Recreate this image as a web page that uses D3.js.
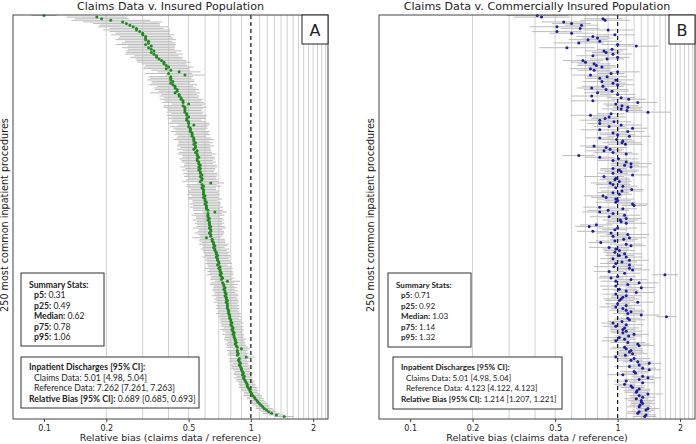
<!DOCTYPE html>
<html>
<head>
<meta charset="utf-8">
<script src="https://cdn.jsdelivr.net/npm/d3@7"></script>
<style>
  body { margin: 0; background: #fff; }
  svg { display: block; }
  .title, .axis-label, .tick text { font-family: "DejaVu Sans", sans-serif; fill: #222; }
  .box-text { font-family: Lato, "Open Sans", sans-serif; fill: #222; }
</style>
</head>
<body>
<div id="chart"></div>
<script>
// relative bias per procedure (point estimate), panel A: all insured
const biasA = [
  0.10, 0.18, 0.19, 0.21, 0.24, 0.25, 0.26, 0.27, 0.28, 0.28,
  0.29, 0.30, 0.30, 0.31, 0.31, 0.31, 0.32, 0.32, 0.31, 0.33,
  0.32, 0.33, 0.34, 0.33, 0.34, 0.35, 0.35, 0.36, 0.37, 0.38,
  0.38, 0.39, 0.40, 0.39, 0.41, 0.45, 0.40, 0.48, 0.41, 0.41,
  0.41, 0.42, 0.41, 0.42, 0.43, 0.43, 0.44, 0.44, 0.43, 0.45,
  0.45, 0.46, 0.46, 0.47, 0.47, 0.50, 0.47, 0.48, 0.48, 0.48,
  0.48, 0.49, 0.49, 0.50, 0.49, 0.49, 0.50, 0.50, 0.53, 0.50,
  0.51, 0.51, 0.51, 0.52, 0.52, 0.52, 0.53, 0.53, 0.53, 0.54,
  0.53, 0.54, 0.54, 0.53, 0.55, 0.54, 0.55, 0.55, 0.56, 0.55,
  0.55, 0.56, 0.56, 0.57, 0.56, 0.57, 0.56, 0.57, 0.57, 0.58,
  0.57, 0.58, 0.58, 0.57, 0.64, 0.58, 0.59, 0.58, 0.59, 0.59,
  0.59, 0.59, 0.60, 0.59, 0.60, 0.60, 0.61, 0.60, 0.61, 0.61,
  0.61, 0.62, 0.67, 0.62, 0.62, 0.62, 0.63, 0.62, 0.63, 0.63,
  0.63, 0.64, 0.63, 0.64, 0.64, 0.63, 0.64, 0.64, 0.61, 0.65,
  0.65, 0.66, 0.66, 0.67, 0.66, 0.67, 0.67, 0.68, 0.68, 0.69,
  0.68, 0.69, 0.69, 0.70, 0.70, 0.69, 0.71, 0.70, 0.71, 0.71,
  0.72, 0.71, 0.72, 0.73, 0.72, 0.77, 0.73, 0.74, 0.74, 0.75,
  0.74, 0.75, 0.75, 0.76, 0.75, 0.76, 0.76, 0.77, 0.76, 0.77,
  0.77, 0.77, 0.77, 0.78, 0.78, 0.78, 0.79, 0.79, 0.79, 0.80,
  0.80, 0.81, 0.80, 0.81, 0.82, 0.81, 0.82, 0.83, 0.82, 0.83,
  0.83, 0.84, 0.84, 0.85, 0.84, 0.85, 0.86, 0.90, 0.86, 0.86,
  0.87, 0.86, 0.95, 0.88, 0.87, 0.88, 0.89, 0.88, 0.89, 0.90,
  0.90, 0.91, 0.92, 0.91, 0.93, 0.92, 0.93, 0.94, 0.95, 0.96,
  0.96, 0.97, 0.98, 0.99, 1.00, 1.01, 1.02, 1.04, 1.05, 1.07,
  1.08, 1.10, 1.12, 1.14, 1.16, 1.19, 1.22, 1.26, 1.33, 1.45
];
// 95% CI half width, percent (multiplicative), panel A
const ciA = [
  15, 40, 35, 55, 55, 45, 40, 48, 35, 45,
  40, 35, 42, 33, 36, 40, 30, 35, 40, 30,
  34, 30, 36, 32, 38, 28, 34, 30, 32, 35,
  28, 26, 32, 29, 24, 27, 30, 24, 28, 26,
  30, 27, 24, 31, 22, 26, 28, 23, 32, 22,
  25, 21, 27, 23, 26, 21, 24, 27, 22, 20,
  23, 19, 25, 21, 24, 18, 22, 26, 19, 23,
  21, 18, 24, 20, 22, 17, 21, 25, 19, 21,
  20, 23, 18, 21, 17, 20, 24, 18, 20, 22,
  19, 21, 17, 20, 23, 18, 20, 16, 21, 19,
  20, 17, 19, 22, 16, 18, 21, 17, 15, 19,
  18, 20, 16, 18, 21, 15, 17, 19, 16, 20,
  16, 18, 15, 17, 20, 14, 16, 19, 15, 18,
  15, 17, 20, 14, 16, 18, 15, 13, 17, 15,
  16, 14, 18, 15, 13, 17, 14, 16, 14, 15,
  17, 13, 15, 14, 16, 12, 14, 17, 13, 15,
  14, 16, 12, 14, 13, 15, 14, 17, 12, 14,
  13, 15, 12, 14, 16, 12, 14, 13, 15, 12,
  14, 12, 14, 11, 13, 15, 12, 14, 11, 13,
  12, 14, 11, 13, 11, 14, 12, 10, 13, 11,
  11, 13, 11, 10, 12, 11, 13, 10, 12, 10,
  12, 11, 10, 12, 10, 12, 9, 11, 10, 12,
  10, 9, 11, 10, 9, 11, 9, 11, 9, 10,
  9, 11, 9, 10, 8, 9, 11, 9, 10, 8,
  10, 9, 10, 8, 10, 9, 8, 10, 9, 11
];
// panel B: commercially insured
const biasB = [
  0.41, 0.43, 0.85, 0.87, 0.55, 0.60, 0.67, 0.51, 0.66, 0.90,
  0.51, 0.60, 0.97, 0.76, 0.80, 0.72, 0.82, 0.65, 1.00, 1.23,
  0.57, 0.94, 0.86, 0.88, 0.95, 0.76, 1.00, 0.89, 0.68, 0.70,
  0.77, 0.79, 0.84, 0.74, 0.77, 1.00, 0.93, 0.74, 0.89, 0.82,
  0.98, 0.84, 0.95, 1.00, 0.85, 0.75, 0.88, 0.94, 0.80, 1.00,
  0.75, 1.04, 1.13, 0.76, 1.25, 0.98, 1.05, 1.12, 1.04, 1.11,
  1.40, 0.93, 0.74, 0.91, 0.87, 0.82, 0.96, 0.82, 1.04, 0.91,
  1.18, 0.82, 1.12, 0.95, 1.00, 1.14, 0.82, 0.99, 1.06, 1.05,
  1.09, 0.77, 0.88, 0.92, 0.86, 0.95, 1.10, 0.65, 0.82, 1.01,
  0.95, 1.10, 1.16, 1.08, 1.16, 0.95, 1.02, 1.04, 0.95, 1.18,
  0.86, 0.98, 0.97, 1.02, 0.92, 0.95, 1.06, 0.98, 1.17, 1.05,
  0.95, 1.02, 0.85, 0.88, 0.98, 1.00, 0.98, 1.18, 1.20, 0.82,
  1.06, 0.90, 0.82, 0.95, 1.08, 0.91, 1.10, 1.03, 1.04, 1.10,
  0.79, 0.73, 1.00, 0.97, 0.76, 0.93, 1.12, 0.95, 1.14, 1.07,
  0.97, 0.83, 1.10, 1.16, 0.91, 0.98, 1.02, 0.97, 1.08, 1.02,
  1.10, 0.95, 1.14, 1.05, 0.98, 1.14, 0.96, 1.14, 1.18, 0.91,
  1.08, 1.69, 1.00, 0.93, 1.16, 0.98, 1.27, 1.12, 0.98, 1.30,
  1.02, 1.10, 1.23, 0.98, 1.10, 1.06, 1.04, 1.02, 1.25, 1.00,
  1.10, 0.98, 1.06, 1.10, 1.16, 1.12, 1.30, 1.72, 1.12, 1.14,
  1.05, 0.95, 1.10, 0.98, 1.08, 1.06, 1.10, 1.06, 1.20, 1.13,
  1.02, 1.08, 0.98, 1.12, 1.25, 1.27, 1.08, 1.10, 1.16, 1.14,
  1.18, 1.09, 0.98, 1.20, 1.16, 1.25, 1.42, 1.27, 1.14, 1.32,
  1.42, 1.20, 1.22, 1.06, 1.32, 1.40, 1.27, 1.10, 1.32, 1.08,
  1.16, 1.18, 1.27, 1.24, 1.23, 1.40, 1.27, 1.32, 1.23, 1.30,
  1.30, 1.32, 1.28, 1.27, 1.40, 1.37, 1.27, 1.25, 1.37, 1.35
];
const ciB = [
  40, 36, 24, 32, 28, 24, 20, 36, 24, 32,
  32, 28, 24, 20, 18, 24, 28, 32, 20, 28,
  36, 19, 24, 17, 24, 20, 15, 21, 25, 18,
  20, 24, 17, 26, 20, 28, 16, 22, 25, 18,
  21, 24, 15, 20, 26, 18, 28, 20, 16, 22,
  25, 17, 21, 28, 24, 15, 20, 18, 24, 19,
  28, 16, 25, 20, 17, 24, 21, 15, 26, 19,
  18, 24, 20, 16, 22, 26, 17, 19, 15, 24,
  21, 17, 25, 16, 22, 24, 15, 20, 18, 25,
  19, 16, 26, 17, 21, 15, 24, 20, 18, 22,
  25, 16, 19, 15, 24, 21, 17, 20, 14, 26,
  19, 15, 24, 18, 22, 16, 25, 19, 15, 20,
  17, 26, 21, 15, 19, 24, 18, 22, 16, 25,
  20, 17, 24, 15, 19, 18, 27, 16, 21, 17,
  24, 15, 20, 18, 25, 16, 19, 14, 22, 17,
  20, 15, 24, 18, 19, 16, 25, 15, 21, 18,
  19, 16, 22, 15, 20, 18, 24, 14, 19, 17,
  21, 15, 22, 16, 18, 14, 22, 17, 19, 15,
  18, 20, 14, 21, 16, 18, 22, 12, 15, 19,
  17, 14, 21, 16, 18, 15, 20, 14, 18, 16,
  19, 14, 17, 21, 14, 18, 15, 20, 14, 17,
  18, 14, 16, 20, 14, 18, 15, 13, 18, 16,
  14, 17, 14, 19, 13, 16, 18, 14, 15, 12,
  17, 14, 13, 16, 14, 18, 12, 15, 14, 16,
  13, 14, 12, 15, 14, 11, 14, 13, 12, 14
];

const xTicks = [0.1, 0.2, 0.5, 1, 2];
const gridValues = [0.2, 0.3, 0.4, 0.5, 0.6, 0.7, 0.8, 0.9,
  1.1, 1.2, 1.3, 1.4, 1.5, 1.6, 1.7, 1.8, 1.9, 2.0, 2.1, 2.2, 2.3];
const statLabels = ['p5', 'p25', 'Median', 'p75', 'p95'];
const statsA = ['0.31', '0.49', '0.62', '0.78', '1.06'];
const statsB = ['0.71', '0.92', '1.03', '1.14', '1.32'];
const dischargesA = ['5.01 [4.98, 5.04]', '7.262 [7.261, 7.263]', '0.689 [0.685, 0.693]'];
const dischargesB = ['5.01 [4.98, 5.04]', '4.123 [4.122, 4.123]', '1.214 [1.207, 1.221]'];

const svg = d3.select('#chart').append('svg')
  .attr('width', 696)
  .attr('height', 444);

// scale a text's font size so that it spans the given width
function fitWidth(sel, target) {
  const w = sel.node().getComputedTextLength();
  const fs = +sel.attr('font-size');
  sel.attr('font-size', (fs * target) / w);
  return (fs * target) / w;
}

function drawPanel(p) {
  const g = svg.append('g');

  const x = d3.scaleLog().domain([0.0708, 2.36]).range([p.left, p.right]);
  const y = d3.scalePoint().domain(d3.range(p.bias.length)).range([p.top + 0.5, p.bottom - 2.5]);

  // grid
  g.selectAll('.grid').data(gridValues).join('line')
    .attr('class', 'grid')
    .attr('x1', d => x(d)).attr('x2', d => x(d))
    .attr('y1', p.top).attr('y2', p.bottom)
    .attr('stroke', '#c4c4c4')
    .attr('stroke-width', 0.8);

  // error bars
  g.selectAll('.ci').data(p.bias).join('line')
    .attr('class', 'ci')
    .attr('x1', (d, i) => Math.max(p.left, x(d / (1 + p.ci[i] / 100))))
    .attr('x2', (d, i) => Math.min(p.right, x(d * (1 + p.ci[i] / 100))))
    .attr('y1', (d, i) => y(i)).attr('y2', (d, i) => y(i))
    .attr('stroke', '#bcbcbc')
    .attr('stroke-width', 1);

  // reference line at 1
  g.append('line')
    .attr('x1', x(1)).attr('x2', x(1))
    .attr('y1', p.top).attr('y2', p.bottom)
    .attr('stroke', '#111')
    .attr('stroke-width', 1.2)
    .attr('stroke-dasharray', '4,3');

  // points
  g.selectAll('.pt').data(p.bias).join('circle')
    .attr('class', 'pt')
    .attr('cx', d => x(d))
    .attr('cy', (d, i) => y(i))
    .attr('r', 1.5)
    .attr('fill', p.color);

  // frame
  g.append('rect')
    .attr('x', p.left).attr('y', p.top)
    .attr('width', p.right - p.left).attr('height', p.bottom - p.top)
    .attr('fill', 'none')
    .attr('stroke', '#444')
    .attr('stroke-width', 1);

  // x axis
  const axis = g.append('g')
    .attr('transform', `translate(0,${p.bottom})`)
    .call(d3.axisBottom(x).tickValues(xTicks).tickFormat(d3.format('~g')).tickSize(3));
  axis.select('.domain').remove();
  axis.selectAll('.tick line').attr('stroke', '#444');
  axis.selectAll('.tick text').attr('font-size', 8);

  const xl = g.append('text')
    .attr('class', 'axis-label')
    .attr('x', (p.left + p.right) / 2)
    .attr('y', 441)
    .attr('text-anchor', 'middle')
    .attr('font-size', 9.5)
    .text('Relative bias (claims data / reference)');
  fitWidth(xl, 182);

  const yl = g.append('text')
    .attr('class', 'axis-label')
    .attr('transform', `translate(${p.ylabelX},215) rotate(-90)`)
    .attr('text-anchor', 'middle')
    .attr('font-size', 9.5)
    .text('250 most common inpatient procedures');
  fitWidth(yl, 194);

  const tt = g.append('text')
    .attr('class', 'title')
    .attr('x', (p.left + p.right) / 2)
    .attr('y', 10)
    .attr('text-anchor', 'middle')
    .attr('font-size', 10.5)
    .text(p.title);
  fitWidth(tt, p.titleWidth);

  // panel letter
  g.append('rect')
    .attr('x', p.right - 26).attr('y', p.top)
    .attr('width', 26).attr('height', 29)
    .attr('fill', '#fff').attr('stroke', '#222').attr('stroke-width', 1);
  g.append('text')
    .attr('class', 'title')
    .attr('x', p.right - 13).attr('y', p.top + 21)
    .attr('text-anchor', 'middle')
    .attr('font-size', 16)
    .text(p.letter);

  // summary stats box
  const boxTexts = [];
  const sb = p.statsBox;
  g.append('rect')
    .attr('x', sb.x).attr('y', sb.y).attr('width', sb.w).attr('height', sb.h)
    .attr('fill', '#fff').attr('stroke', '#333').attr('stroke-width', 1);
  boxTexts.push(g.append('text').attr('class', 'box-text')
    .attr('x', sb.x + 8).attr('y', sb.y + 14.5)
    .attr('font-size', 8).attr('font-weight', 'bold')
    .text('Summary Stats:'));
  statLabels.forEach((lab, i) => {
    const t = g.append('text').attr('class', 'box-text')
      .attr('x', sb.x + 13).attr('y', sb.y + 25 + i * 10.5)
      .attr('font-size', 8);
    t.append('tspan').attr('font-weight', 'bold').text(lab + ':');
    t.append('tspan').text(' ' + p.stats[i]);
    boxTexts.push(t);
  });

  // discharges box
  const db = p.dischBox;
  g.append('rect')
    .attr('x', db.x).attr('y', db.y).attr('width', db.w).attr('height', db.h)
    .attr('fill', '#fff').attr('stroke', '#333').attr('stroke-width', 1);
  boxTexts.push(g.append('text').attr('class', 'box-text')
    .attr('x', db.x + 8).attr('y', db.y + 13)
    .attr('font-size', 8).attr('font-weight', 'bold')
    .text('Inpatient Discharges [95% CI]:'));
  boxTexts.push(g.append('text').attr('class', 'box-text')
    .attr('x', db.x + 13).attr('y', db.y + 23.5)
    .attr('font-size', 8)
    .text('Claims Data: ' + p.disch[0]));
  boxTexts.push(g.append('text').attr('class', 'box-text')
    .attr('x', db.x + 13).attr('y', db.y + 34)
    .attr('font-size', 8)
    .text('Reference Data: ' + p.disch[1]));
  const rb = g.append('text').attr('class', 'box-text')
    .attr('x', db.x + 8).attr('y', db.y + 44.5)
    .attr('font-size', 8);
  rb.append('tspan').attr('font-weight', 'bold').text('Relative Bias [95% CI]:');
  rb.append('tspan').text(' ' + p.disch[2]);

  const fs = fitWidth(rb, p.biasLineWidth);
  boxTexts.forEach(t => t.attr('font-size', fs));
}

drawPanel({
  left: 13, right: 328, top: 15, bottom: 419, ylabelX: 8,
  bias: biasA, ci: ciA, color: '#1f8a1f',
  title: 'Claims Data v. Insured Population', titleWidth: 187, letter: 'A',
  stats: statsA, disch: dischargesA, biasLineWidth: 167,
  statsBox: { x: 21, y: 273, w: 83, h: 73 },
  dischBox: { x: 21, y: 357, w: 178, h: 51 }
});

drawPanel({
  left: 379, right: 695, top: 15, bottom: 419, ylabelX: 374,
  bias: biasB, ci: ciB, color: '#1c1caa',
  title: 'Claims Data v. Commercially Insured Population', titleWidth: 267, letter: 'B',
  stats: statsB, disch: dischargesB, biasLineWidth: 156,
  statsBox: { x: 388, y: 273, w: 83, h: 74 },
  dischBox: { x: 393, y: 357, w: 169, h: 52 }
});
</script>
</body>
</html>
